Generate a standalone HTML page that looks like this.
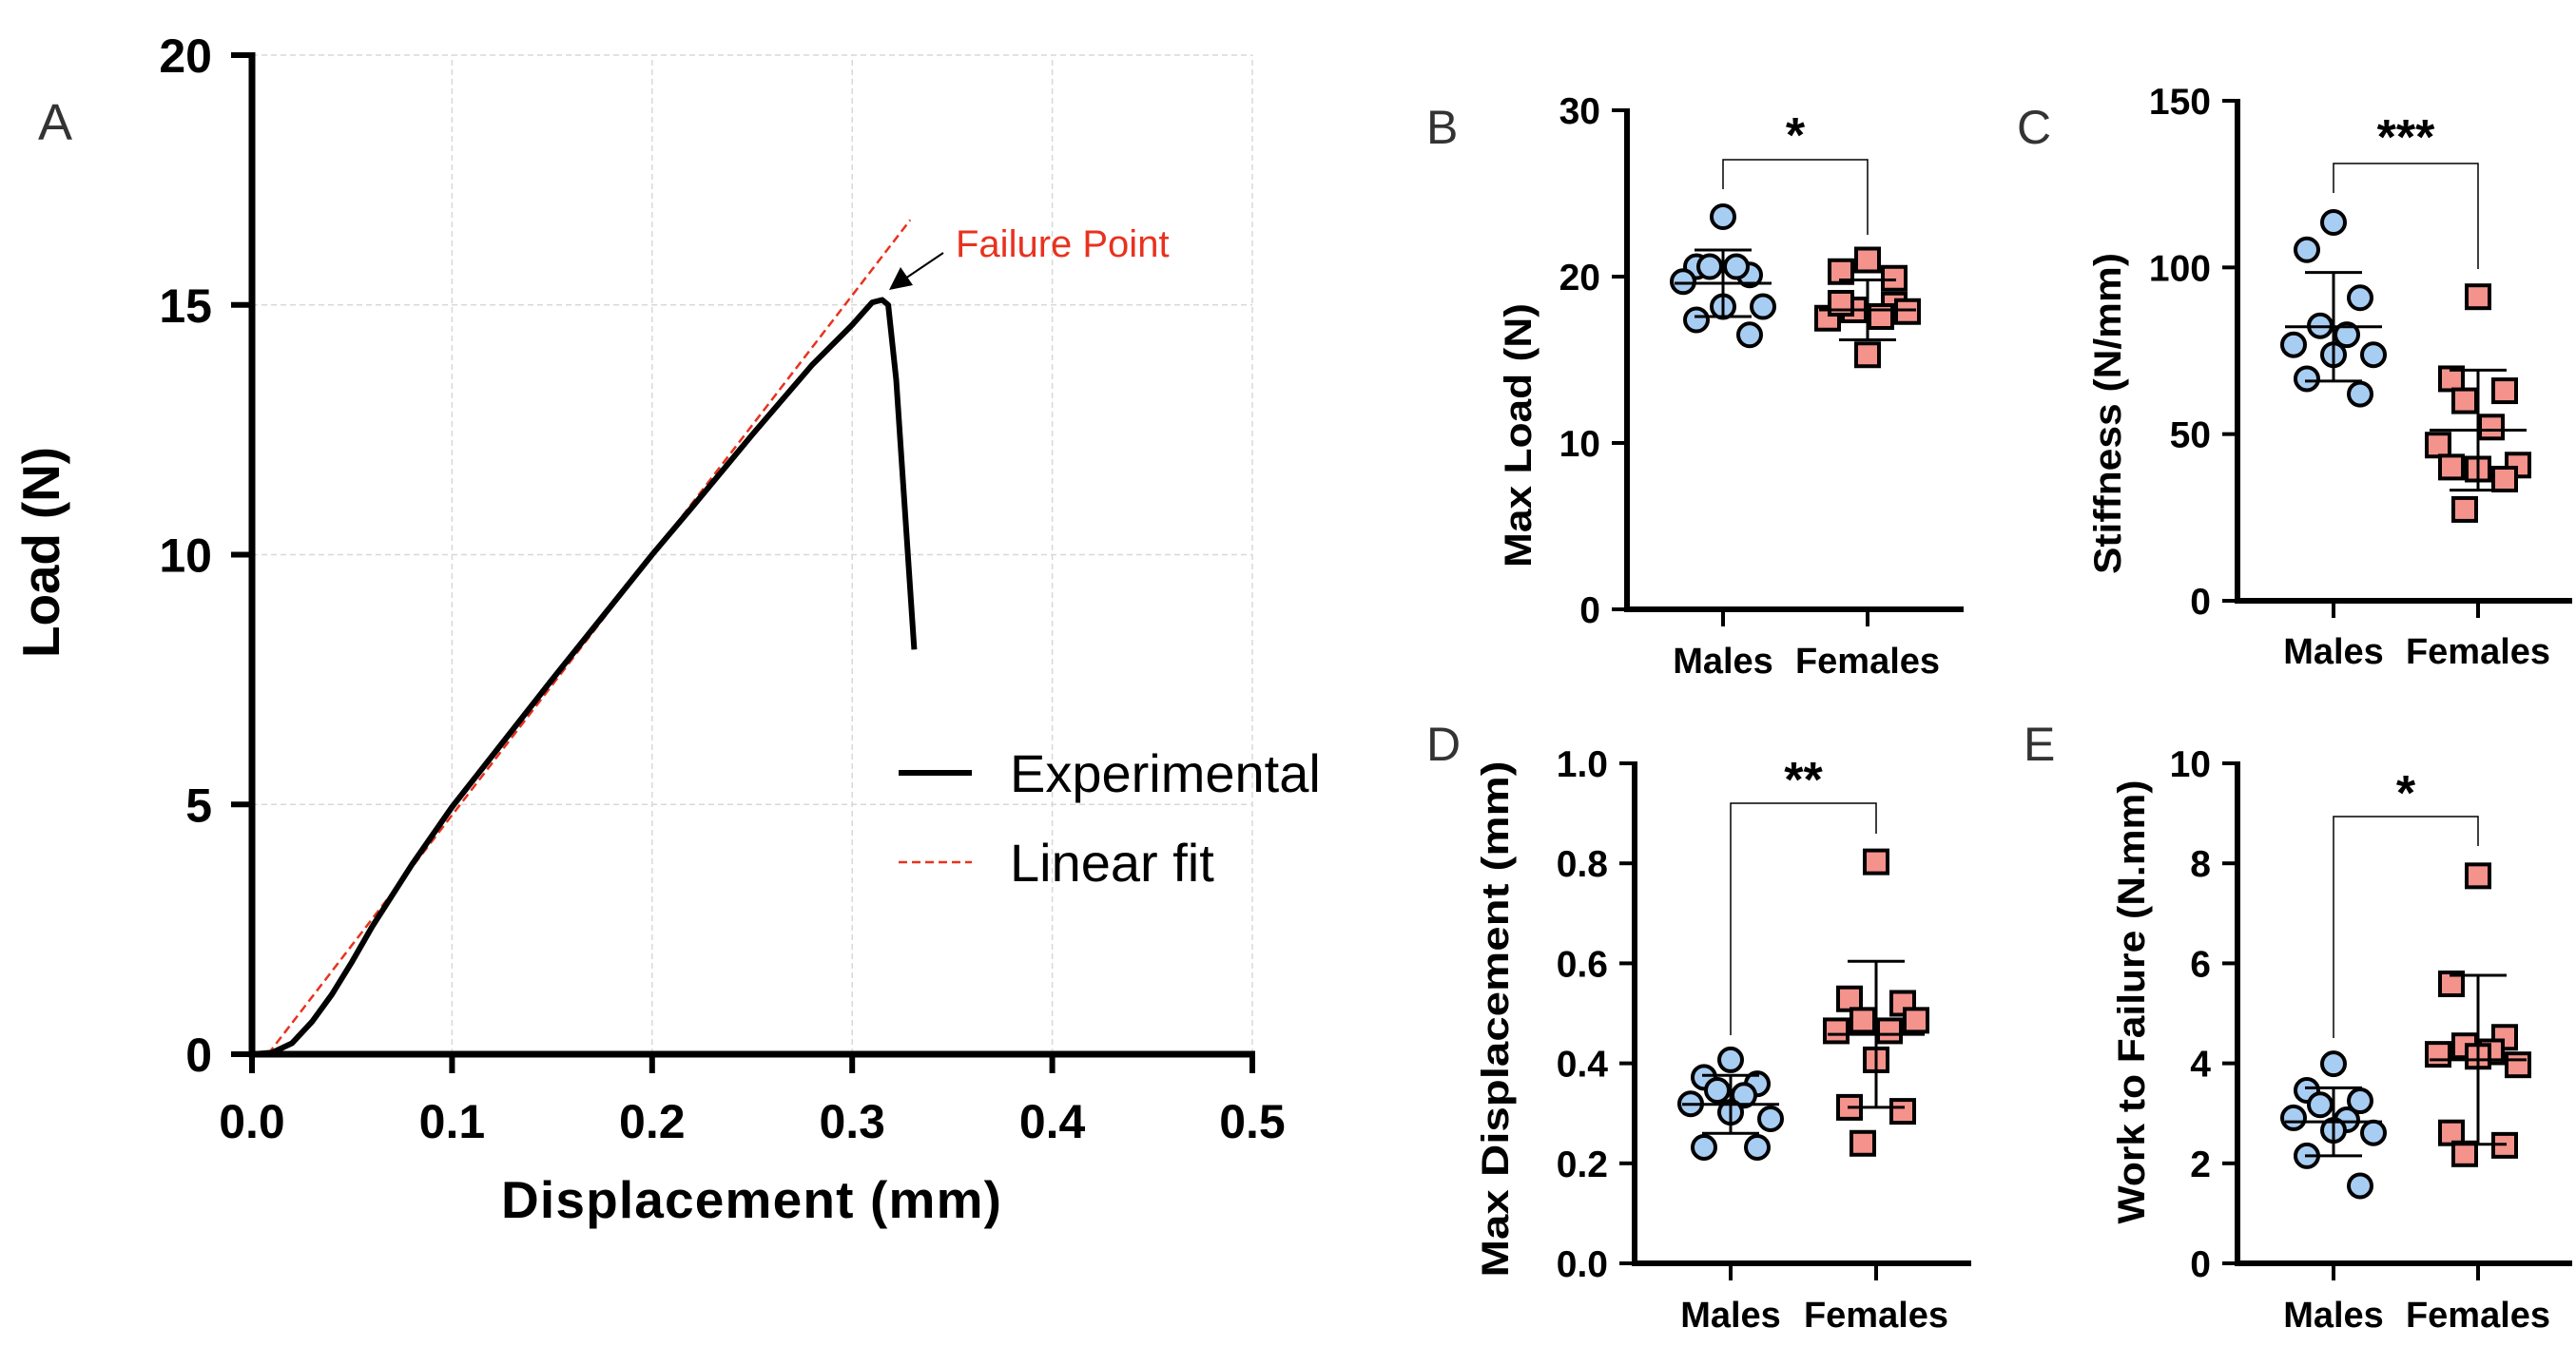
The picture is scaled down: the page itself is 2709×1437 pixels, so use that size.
<!DOCTYPE html>
<html><head><meta charset="utf-8"><style>
html,body{margin:0;padding:0;background:#fff;}
svg{display:block;font-family:"Liberation Sans",sans-serif;}
</style></head><body>
<svg id="fig" width="2709" height="1437" viewBox="0 0 2709 1437" xmlns="http://www.w3.org/2000/svg"></svg>
<script>
// ---- Panel A data ----
const expX = [0,0.01,0.02,0.03,0.04,0.05,0.06,0.08,0.1,0.15,0.2,0.22,0.25,0.28,0.3,0.31,0.315,0.318,0.322,0.327,0.331];
const expY = [0,0.03,0.22,0.65,1.2,1.85,2.55,3.8,4.95,7.5,10.0,10.95,12.4,13.8,14.6,15.05,15.1,15.0,13.5,10.5,8.1];
const fitX = [0.008,0.329];
const fitY = [0,16.7];
const aXTicks = ["0.0","0.1","0.2","0.3","0.4","0.5"];
const aYTicks = ["0","5","10","15","20"];
// ---- Scatter panels data ----
const groups = ["Males","Females"];
const bMales = [23.6,20.6,20.1,20.6,20.6,19.7,18.2,18.2,17.4,16.5];
const bFemales = [21.0,20.3,18.3,18.0,17.6,17.5,17.9,15.3,18.4,19.9];
const bMean = [19.6,18.0]; const bSD = [2.0,1.8];
const cMales = [113.5,105.3,90.9,82.5,79.8,76.8,73.8,73.8,66.6,62.0];
const cFemales = [91.2,66.6,63,60,52.1,46.7,40.7,39.5,40.1,36.5,27.4];
const cMean = [82.2,51.2]; const cSD = [16.3,18.0];
const dMales = [0.407,0.372,0.359,0.346,0.336,0.319,0.289,0.302,0.232,0.232];
const dFemales = [0.803,0.529,0.52,0.486,0.465,0.465,0.486,0.407,0.312,0.304,0.240];
const dMean = [0.318,0.458]; const dSD = [0.058,0.146];
const eMales = [3.99,3.46,3.25,3.17,2.87,2.91,2.61,2.66,2.15,1.55];
const eFemales = [7.75,5.59,4.52,4.35,4.23,4.18,3.97,4.14,2.61,2.36,2.19];
const eMean = [2.83,4.07]; const eSD = [0.68,1.69];

const NS="http://www.w3.org/2000/svg";
const svg=document.getElementById('fig');
function mk(tag,attrs,parent,text){const e=document.createElementNS(NS,tag);for(const k in attrs)e.setAttribute(k,attrs[k]);if(text!==undefined)e.textContent=text;(parent||svg).appendChild(e);return e;}

// ---- Panel A ----
const A={x0:265,x1:1317,y0:1109,y1:58};
const ax=v=>A.x0+(v/0.5)*(A.x1-A.x0);
const ay=v=>A.y0-(v/20)*(A.y0-A.y1);
const gA=mk('g',{});


aXTicks.forEach((t,i)=>{const v=i*0.1;
 if(i>0){const g=mk('line',{x1:ax(v),x2:ax(v),y1:A.y0,y2:A.y1,stroke:'#d8d8d8','stroke-width':1.5,'stroke-dasharray':'6 4'},gA);}
 const tk=mk('line',{x1:ax(v),x2:ax(v),y1:A.y0,y2:A.y0+20,stroke:'#000','stroke-width':6},gA);
 const lb=mk('text',{x:ax(v),y:A.y0+88,'text-anchor':'middle','font-size':50,'font-weight':'bold'},gA,t);
});
aYTicks.forEach((t,i)=>{const v=i*5;
 if(i>0){const g=mk('line',{x1:A.x0,x2:A.x1,y1:ay(v),y2:ay(v),stroke:'#d8d8d8','stroke-width':1.5,'stroke-dasharray':'6 4'},gA);}
 const tk=mk('line',{x1:A.x0-22,x2:A.x0,y1:ay(v),y2:ay(v),stroke:'#000','stroke-width':6},gA);
 const lb=mk('text',{x:223,y:ay(v)+18,'text-anchor':'end','font-size':50,'font-weight':'bold'},gA,t);
});
const axl=mk('path',{d:`M${A.x0},${A.y1-3}V${A.y0}H${A.x1+3}`,fill:'none',stroke:'#000','stroke-width':7},gA);

const fit=mk('path',{d:fitX.map((x,i)=>(i?'L':'M')+ax(x)+','+ay(fitY[i])).join(''),fill:'none',stroke:'#e8321e','stroke-width':2.5,'stroke-dasharray':'9 5'},gA);

const ex=mk('path',{d:expX.map((x,i)=>(i?'L':'M')+ax(x)+','+ay(expY[i])).join(''),fill:'none',stroke:'#000','stroke-width':6,'stroke-linejoin':'round'},gA);

let t;
t=mk('text',{x:40,y:147,'font-size':54,fill:'#333'},gA,'A');
t=mk('text',{x:790,y:1281,'text-anchor':'middle','font-size':55,'font-weight':'bold',textLength:526},gA,'Displacement (mm)');
t=mk('text',{x:0,y:0,'text-anchor':'middle','font-size':55,'font-weight':'bold',transform:'translate(62,581) rotate(-90)',textLength:222},gA,'Load (N)');
t=mk('text',{x:1005,y:270,'font-size':40,fill:'#e8321e'},gA,'Failure Point');
t=mk('line',{x1:992,y1:266,x2:952,y2:293,stroke:'#000','stroke-width':2},gA);
t=mk('polygon',{points:'935,305 947,281 960,300',fill:'#000'},gA);
t=mk('line',{x1:945,x2:1022,y1:813,y2:813,stroke:'#000','stroke-width':6},gA);
t=mk('text',{x:1062,y:833,'font-size':56},gA,'Experimental');
t=mk('line',{x1:945,x2:1022,y1:907,y2:907,stroke:'#e8321e','stroke-width':2.5,'stroke-dasharray':'9 5'},gA);
t=mk('text',{x:1062,y:927,'font-size':56},gA,'Linear fit');

// ---- scatter panel ----
function panel(cfg){
 const g=mk('g',{});
 
 
 const sy=v=>cfg.y0-(v/cfg.max)*(cfg.y0-cfg.y1);
 cfg.ticks.forEach((tl,i)=>{const v=i*cfg.step;
  const tk=mk('line',{x1:cfg.x0-16,x2:cfg.x0,y1:sy(v),y2:sy(v),stroke:'#000','stroke-width':4},g);
  const lb=mk('text',{x:cfg.x0-28,y:sy(v)+14,'text-anchor':'end','font-size':39,'font-weight':'bold'},g,tl);
 });
 const a=mk('path',{d:`M${cfg.x0},${cfg.y1-2}V${cfg.y0}H${cfg.xe}`,fill:'none',stroke:'#000','stroke-width':6},g);
 cfg.gx.forEach((x,i)=>{
  const tk=mk('line',{x1:x,x2:x,y1:cfg.y0,y2:cfg.y0+18,stroke:'#000','stroke-width':4},g);
  const lb=mk('text',{x:x,y:cfg.labY,'text-anchor':'middle','font-size':38,'font-weight':'bold'},g,groups[i]);
 });
 const offs=[0,-28,28,-14,14,-42,42];
 [cfg.m,cfg.f].forEach((arr,gi)=>{
  const cx=cfg.gx[gi];
  arr.forEach((v,j)=>{
   const dx=offs[j%7];
   let p;
   if(gi===0){p=mk('circle',{cx:cx+dx,cy:sy(v),r:12,fill:'#a8cdf2',stroke:'#000','stroke-width':4},g);}
   else{p=mk('rect',{x:cx+dx-12,y:sy(v)-12,width:24,height:24,fill:'#f4928c',stroke:'#000','stroke-width':4},g);}
   
  });
  const mn=cfg.mean[gi],sd=cfg.sd[gi];
  let e=mk('line',{x1:cx,x2:cx,y1:sy(mn+sd),y2:sy(mn-sd),stroke:'#000','stroke-width':3},g);
  e=mk('line',{x1:cx-30,x2:cx+30,y1:sy(mn+sd),y2:sy(mn+sd),stroke:'#000','stroke-width':3},g);
  e=mk('line',{x1:cx-30,x2:cx+30,y1:sy(mn-sd),y2:sy(mn-sd),stroke:'#000','stroke-width':3},g);
  e=mk('line',{x1:cx-51,x2:cx+51,y1:sy(mn),y2:sy(mn),stroke:'#000','stroke-width':3},g);
 });
 const br=mk('path',{d:`M${cfg.gx[0]},${cfg.bl}V${cfg.by}H${cfg.gx[1]}V${cfg.brr}`,fill:'none',stroke:'#000','stroke-width':1.5},g);
 const st=mk('text',{x:(cfg.gx[0]+cfg.gx[1])/2,y:cfg.sy,'text-anchor':'middle','font-size':52,'font-weight':'bold'},g,cfg.stars);
 const pl=mk('text',{x:cfg.lx,y:cfg.ly,'font-size':50,fill:'#333'},g,cfg.id.toUpperCase());
 const yt=mk('text',{x:0,y:0,'text-anchor':'middle','font-size':40,'font-weight':'bold',transform:`translate(${cfg.tx},${cfg.ty}) rotate(-90)`,textLength:cfg.tl,lengthAdjust:'spacingAndGlyphs'},g,cfg.title);
}
panel({id:'b',x0:1711,xe:2065,y0:641,y1:116,max:30,step:10,ticks:["0","10","20","30"],gx:[1812,1964],labY:708,m:bMales,f:bFemales,mean:bMean,sd:bSD,by:168,bl:199,brr:247,sy:160,stars:'*',lx:1500,ly:151,tx:1610,ty:458,tl:278,title:'Max  Load (N)'});
panel({id:'c',x0:2353,xe:2705,y0:632,y1:106,max:150,step:50,ticks:["0","50","100","150"],gx:[2454,2606],labY:698,m:cMales,f:cFemales,mean:cMean,sd:cSD,by:172,bl:203,brr:283,sy:162,stars:'***',lx:2121,ly:151,tx:2230,ty:435,tl:338,title:'Stiffness (N/mm)'});
panel({id:'d',x0:1719,xe:2073,y0:1329,y1:803,max:1.0,step:0.2,ticks:["0.0","0.2","0.4","0.6","0.8","1.0"],gx:[1820,1973],labY:1396,m:dMales,f:dFemales,mean:dMean,sd:dSD,by:845,bl:1089,brr:877,sy:838,stars:'**',lx:1500,ly:800,tx:1586,ty:1072,tl:543,title:'Max Displacement  (mm)'});
panel({id:'e',x0:2353,xe:2705,y0:1329,y1:803,max:10,step:2,ticks:["0","2","4","6","8","10"],gx:[2454,2606],labY:1396,m:eMales,f:eFemales,mean:eMean,sd:eSD,by:859,bl:1092,brr:890,sy:852,stars:'*',lx:2128,ly:800,tx:2255,ty:1054,tl:467,title:'Work to Failure (N.mm)'});
</script>
</body></html>
